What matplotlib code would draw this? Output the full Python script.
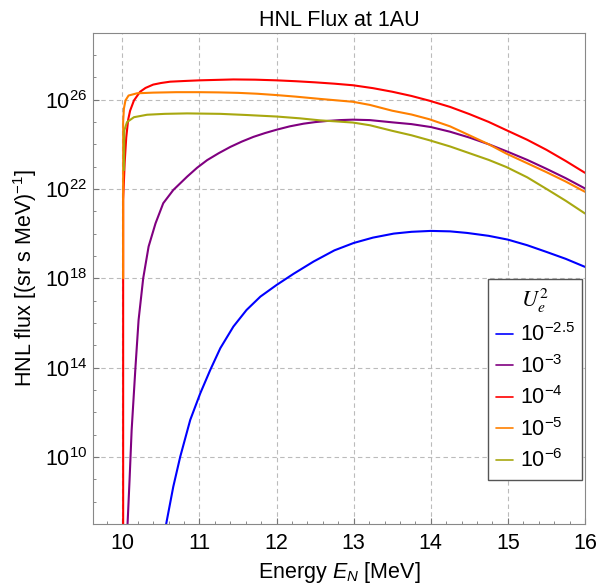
import numpy as np
import matplotlib
matplotlib.use('Agg')
import matplotlib.pyplot as plt
from matplotlib.font_manager import FontProperties

plt.rcParams['font.family'] = ['Liberation Sans', 'DejaVu Sans']
plt.rcParams['mathtext.fontset'] = 'custom'
plt.rcParams['mathtext.rm'] = 'Liberation Sans'
plt.rcParams['mathtext.it'] = 'Liberation Sans:italic'

# energies (MeV) and log10 of the flux
E_25 = [10.565, 10.66, 10.75, 10.88, 11.01, 11.14, 11.27, 11.44, 11.61, 11.79, 12.0, 12.22, 12.48, 12.75,
        13.0, 13.25, 13.52, 13.75, 14.0, 14.25, 14.47, 14.75, 15.0, 15.25, 15.5, 15.75, 16.0]
F_25 = [6.95, 8.67, 10.01, 11.66, 12.85, 13.9, 14.87, 15.84, 16.58, 17.18, 17.7, 18.2, 18.75, 19.25,
        19.58, 19.82, 20.0, 20.08, 20.12, 20.1, 20.03, 19.9, 19.73, 19.48, 19.18, 18.87, 18.51]

E_3 = [10.067, 10.093, 10.12, 10.17, 10.21, 10.27, 10.34, 10.43, 10.53, 10.66, 10.84, 10.97, 11.1, 11.25,
       11.4, 11.55, 11.7, 11.85, 12.0, 12.17, 12.35, 12.5, 12.65, 12.82, 12.99, 13.21, 13.5, 13.75,
       14.0, 14.25, 14.5, 14.75, 15.0, 15.25, 15.5, 15.75, 16.0]
F_3 = [7.0, 8.97, 11.2, 14.04, 16.13, 18.0, 19.42, 20.46, 21.36, 21.95, 22.55, 22.95, 23.29, 23.6,
       23.88, 24.12, 24.33, 24.5, 24.65, 24.8, 24.92, 24.99, 25.04, 25.08, 25.1, 25.08, 24.98, 24.9,
       24.77, 24.56, 24.3, 24.0, 23.66, 23.3, 22.9, 22.48, 22.02]

E_4 = [10.01, 10.01, 10.03, 10.05, 10.075, 10.1, 10.15, 10.23, 10.3, 10.4, 10.5, 10.62, 10.8, 11.0,
       11.44, 11.72, 12.0, 12.25, 12.5, 12.75, 12.99, 13.25, 13.5, 13.75, 13.98, 14.25, 14.5, 14.75,
       14.98, 15.25, 15.5, 15.75, 16.0]
F_4 = [6.0, 21.5, 23.2, 24.3, 25.1, 25.5, 25.96, 26.35, 26.52, 26.67, 26.74, 26.8, 26.83, 26.86,
       26.9, 26.89, 26.86, 26.82, 26.77, 26.71, 26.64, 26.51, 26.35, 26.16, 25.95, 25.67, 25.35, 25.0,
       24.63, 24.2, 23.75, 23.25, 22.72]

E_5 = [10.01, 10.01, 10.02, 10.04, 10.08, 10.19, 10.4, 10.7, 11.0, 11.25, 11.5, 11.75, 12.0, 12.25,
       12.56, 12.99, 13.21, 13.5, 13.75, 13.98, 14.25, 14.5, 14.75, 14.98, 15.25, 15.5, 15.75, 16.0]
F_5 = [18.0, 25.0, 25.6, 25.96, 26.18, 26.28, 26.31, 26.33, 26.33, 26.32, 26.3, 26.26, 26.2, 26.13,
       26.03, 25.9, 25.76, 25.5, 25.33, 25.12, 24.8, 24.4, 24.0, 23.58, 23.15, 22.75, 22.33, 21.87]

E_6 = [10.02, 10.025, 10.06, 10.15, 10.32, 10.55, 10.84, 11.27, 11.6, 12.0, 12.3, 12.56, 12.78, 12.99,
       13.21, 13.5, 13.75, 13.98, 14.25, 14.5, 14.75, 14.98, 15.25, 15.5, 15.75, 16.0]
F_6 = [22.84, 24.62, 24.99, 25.21, 25.32, 25.36, 25.38, 25.36, 25.31, 25.24, 25.16, 25.07, 25.02, 24.97,
       24.85, 24.6, 24.4, 24.18, 23.9, 23.6, 23.3, 22.98, 22.52, 22.0, 21.47, 20.9]

series = [
    (E_25, F_25, '#0000ff', r'$10^{-2.5}$'),
    (E_3, F_3, '#800080', r'$10^{-3}$'),
    (E_4, F_4, '#ff0000', r'$10^{-4}$'),
    (E_5, F_5, '#ff8000', r'$10^{-5}$'),
    (E_6, F_6, '#a8a810', r'$10^{-6}$'),
]

fig = plt.figure(figsize=(6, 5.84), dpi=100)
ax = fig.add_axes([0.1545, 0.1027, 0.8205, 0.8416])

for E, F, c, lab in series:
    ax.plot(E, 10.0 ** np.array(F), color=c, lw=1.5, label=lab,
            solid_joinstyle='round', solid_capstyle='round')

ax.set_yscale('log')
ax.set_xlim(9.615, 16)
ax.set_ylim(1e7, 1e29)

ax.set_xticks([10, 11, 12, 13, 14, 15, 16])
ax.set_xticks(np.arange(9.8, 16.01, 0.2), minor=True)
ax.set_yticks([1e10, 1e14, 1e18, 1e22, 1e26])
ax.set_yticklabels([r'$10^{10}$', r'$10^{14}$', r'$10^{18}$', r'$10^{22}$', r'$10^{26}$'])
ax.set_yticks([10.0 ** k for k in range(7, 30)], minor=True)
ax.yaxis.set_minor_formatter(plt.NullFormatter())

ax.tick_params(which='both', direction='in', top=False, right=False,
               labelsize=15.5, color='#777777')
ax.tick_params(which='major', length=4, pad=4)
ax.tick_params(which='minor', length=2.5)
ax.tick_params(axis='x', pad=6.5)

for s in ax.spines.values():
    s.set_color('#888888')

for xv in [10, 11, 12, 13, 14, 15]:
    ax.axvline(xv, color='#bbbbbb', ls=(0, (4, 3)), lw=0.8, zorder=0)
for yv in [1e10, 1e14, 1e18, 1e22, 1e26]:
    ax.axhline(yv, color='#bbbbbb', ls=(0, (4, 3)), lw=0.8, zorder=0)

ax.set_title('HNL Flux at 1AU', fontsize=15.5, pad=5)
ax.set_xlabel(r'Energy $E_N$ [MeV]', fontsize=15.5, labelpad=4)
ax.set_ylabel(r'HNL flux [(sr s MeV)$^{-1}$]', fontsize=15.5)

h, l = ax.get_legend_handles_labels()
tfp = FontProperties(family='Liberation Serif', size=16, math_fontfamily='stix')
leg = ax.legend(h, l, loc='lower right', bbox_to_anchor=(0.9945, 0.0895),
                borderaxespad=0, fontsize=15.5, title=r'$U_e^2$',
                title_fontproperties=tfp, handlelength=0.8, handletextpad=0.3,
                labelspacing=0.4, borderpad=0.35, fancybox=False, framealpha=1)
leg.get_frame().set_edgecolor('#555555')
leg.get_frame().set_linewidth(1.0)
for line in leg.get_lines():
    line.set_linewidth(1.2)

fig.savefig('out.png', dpi=100)
